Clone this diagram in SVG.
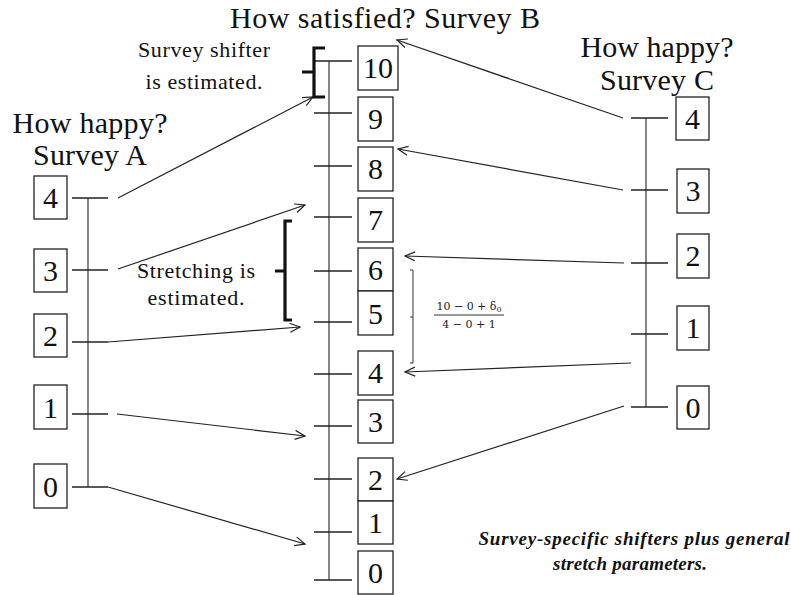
<svg xmlns="http://www.w3.org/2000/svg" width="791" height="595" viewBox="0 0 791 595">
<style>
.t{font-family:"Liberation Serif","Times New Roman",serif;fill:#111;text-anchor:middle}
.title{font-size:30px}
.num{font-size:30px}
.note{font-size:22px}
.box{fill:#fff;stroke:#222;stroke-width:1.3}
.tick{stroke:#222;stroke-width:1.3}
.axis{stroke:#444;stroke-width:1.3}
.con{stroke:#222;stroke-width:1.2;fill:none}
.brace{stroke:#111;stroke-width:3.2;fill:none}
.bi{font-family:"Liberation Serif","Times New Roman",serif;font-size:19px;font-weight:bold;font-style:italic;fill:#111;text-anchor:middle}
.frac{font-family:"DejaVu Serif","Liberation Serif",serif;font-size:11px;fill:#222;text-anchor:middle}
</style>
<defs>
<marker id="ah" markerUnits="userSpaceOnUse" markerWidth="14" markerHeight="12" refX="11" refY="5" orient="auto">
<path d="M1,0.5 L11,5 L1,9.5" fill="none" stroke="#222" stroke-width="1.2"/>
</marker>
</defs>

<rect width="791" height="595" fill="#fff"/>

<!-- Titles -->
<text class="t title" x="385" y="28" textLength="310">How satisfied?  Survey B</text>
<g id="titleA">
<text class="t title" x="90" y="133" textLength="155">How happy?</text>
<text class="t title" x="90" y="165" textLength="114">Survey A</text>
</g>
<g id="titleC">
<text class="t title" x="657" y="57" textLength="153">How happy?</text>
<text class="t title" x="657" y="90" textLength="114">Survey C</text>
</g>

<!-- Survey A -->
<g id="surveyA">
<line class="axis" x1="88" y1="198" x2="88" y2="487"/>
<line class="tick" x1="72" y1="198" x2="108" y2="198"/>
<line class="tick" x1="72" y1="270" x2="108" y2="270"/>
<line class="tick" x1="72" y1="342" x2="108" y2="342"/>
<line class="tick" x1="72" y1="414" x2="108" y2="414"/>
<line class="tick" x1="72" y1="487" x2="108" y2="487"/>
</g>
<g id="A4"><rect class="box" x="34" y="176" width="33" height="43"/><text class="t num" x="50.5" y="208">4</text></g>
<g id="A3"><rect class="box" x="34" y="249" width="33" height="43"/><text class="t num" x="50.5" y="281">3</text></g>
<g id="A2"><rect class="box" x="34" y="314" width="33" height="43"/><text class="t num" x="50.5" y="346">2</text></g>
<g id="A1"><rect class="box" x="34" y="385" width="33" height="44"/><text class="t num" x="50.5" y="418">1</text></g>
<g id="A0"><rect class="box" x="34" y="464" width="33" height="44"/><text class="t num" x="50.5" y="497">0</text></g>

<!-- Survey B -->
<g id="surveyB">
<line class="axis" x1="329" y1="61" x2="329" y2="580"/>
<line class="tick" x1="315" y1="61" x2="352" y2="61"/>
<line class="tick" x1="314" y1="113" x2="352" y2="113"/>
<line class="tick" x1="314" y1="166" x2="352" y2="166"/>
<line class="tick" x1="314" y1="217" x2="352" y2="217"/>
<line class="tick" x1="314" y1="271" x2="352" y2="271"/>
<line class="tick" x1="314" y1="322" x2="352" y2="322"/>
<line class="tick" x1="314" y1="374" x2="352" y2="374"/>
<line class="tick" x1="314" y1="426" x2="352" y2="426"/>
<line class="tick" x1="314" y1="479" x2="352" y2="479"/>
<line class="tick" x1="314" y1="532" x2="352" y2="532"/>
<line class="tick" x1="314" y1="580" x2="352" y2="580"/>
</g>
<g id="B10"><rect class="box" x="358" y="46" width="40" height="44"/><text class="t num" x="378" y="78">10</text></g>
<g id="B9"><rect class="box" x="358" y="97" width="35" height="44"/><text class="t num" x="375.5" y="129">9</text></g>
<g id="B8"><rect class="box" x="358" y="147" width="35" height="44"/><text class="t num" x="375.5" y="179">8</text></g>
<g id="B7"><rect class="box" x="358" y="198" width="35" height="44"/><text class="t num" x="375.5" y="230">7</text></g>
<g id="B6"><rect class="box" x="358" y="248" width="35" height="43"/><text class="t num" x="375.5" y="280">6</text></g>
<g id="B5"><rect class="box" x="358" y="291" width="35" height="44"/><text class="t num" x="375.5" y="324">5</text></g>
<g id="B4"><rect class="box" x="358" y="351" width="35" height="44"/><text class="t num" x="375.5" y="383">4</text></g>
<g id="B3"><rect class="box" x="358" y="400" width="35" height="43"/><text class="t num" x="375.5" y="432">3</text></g>
<g id="B2"><rect class="box" x="358" y="458" width="35" height="43"/><text class="t num" x="375.5" y="490">2</text></g>
<g id="B1"><rect class="box" x="358" y="501" width="35" height="43"/><text class="t num" x="375.5" y="533">1</text></g>
<g id="B0"><rect class="box" x="358" y="551" width="35" height="43"/><text class="t num" x="375.5" y="583">0</text></g>

<!-- Survey C -->
<g id="surveyC">
<line class="axis" x1="646" y1="118" x2="646" y2="407"/>
<line class="tick" x1="631" y1="118" x2="668" y2="118"/>
<line class="tick" x1="631" y1="190" x2="668" y2="190"/>
<line class="tick" x1="631" y1="263" x2="668" y2="263"/>
<line class="tick" x1="631" y1="334" x2="668" y2="334"/>
<line class="tick" x1="631" y1="407" x2="668" y2="407"/>
</g>
<g id="C4"><rect class="box" x="676" y="97" width="33" height="43"/><text class="t num" x="692.5" y="129">4</text></g>
<g id="C3"><rect class="box" x="677" y="169" width="32" height="44"/><text class="t num" x="693" y="201">3</text></g>
<g id="C2"><rect class="box" x="677" y="234" width="32" height="44"/><text class="t num" x="693" y="266">2</text></g>
<g id="C1"><rect class="box" x="677" y="306" width="32" height="44"/><text class="t num" x="693" y="338">1</text></g>
<g id="C0"><rect class="box" x="677" y="386" width="32" height="43"/><text class="t num" x="693" y="418">0</text></g>

<!-- Connectors -->
<g id="connectors">
<line class="con" x1="118" y1="198" x2="313" y2="97" marker-end="url(#ah)"/>
<line class="con" x1="118" y1="269" x2="305" y2="205" marker-end="url(#ah)"/>
<line class="con" x1="108" y1="342" x2="300" y2="327" marker-end="url(#ah)"/>
<line class="con" x1="117" y1="414" x2="305" y2="436" marker-end="url(#ah)"/>
<line class="con" x1="108" y1="487" x2="305" y2="544" marker-end="url(#ah)"/>
<line class="con" x1="623" y1="118" x2="397" y2="40" marker-end="url(#ah)"/>
<line class="con" x1="623" y1="190" x2="398" y2="149" marker-end="url(#ah)"/>
<line class="con" x1="624" y1="263" x2="405" y2="256" marker-end="url(#ah)"/>
<line class="con" x1="631" y1="363" x2="405" y2="372" marker-end="url(#ah)"/>
<line class="con" x1="624" y1="406" x2="397" y2="479" marker-end="url(#ah)"/>
</g>

<!-- Braces and annotations -->
<g id="shifter">
<path class="brace" d="M325,48 L314,48 L314,72 L302,72 M314,72 L314,97 L325,97"/>
<text class="t note" x="204" y="57" textLength="132">Survey shifter</text>
<text class="t note" x="204" y="89" textLength="117">is estimated.</text>
</g>
<g id="stretching">
<path class="brace" d="M292,221 L285,221 L285,271 L275,271 M285,271 L285,320 L292,320"/>
<text class="t note" x="196" y="278" textLength="118">Stretching is</text>
<text class="t note" x="196" y="305" textLength="97">estimated.</text>
</g>
<g id="formula">
<path d="M410,270 L413,270 L413,363 L410,363 M413,317 L410,317" fill="none" stroke="#333" stroke-width="1"/>
<text class="frac" x="469" y="310">10 − 0 + δ<tspan font-size="8" dy="2">0</tspan></text>
<line x1="434" y1="315" x2="504" y2="315" stroke="#333" stroke-width="1"/>
<text class="frac" x="469" y="328">4 − 0 + 1</text>
</g>
<g id="caption">
<text class="bi" x="634" y="545" textLength="311">Survey-specific shifters plus general</text>
<text class="bi" x="630" y="570" textLength="154">stretch parameters.</text>
</g>
</svg>
